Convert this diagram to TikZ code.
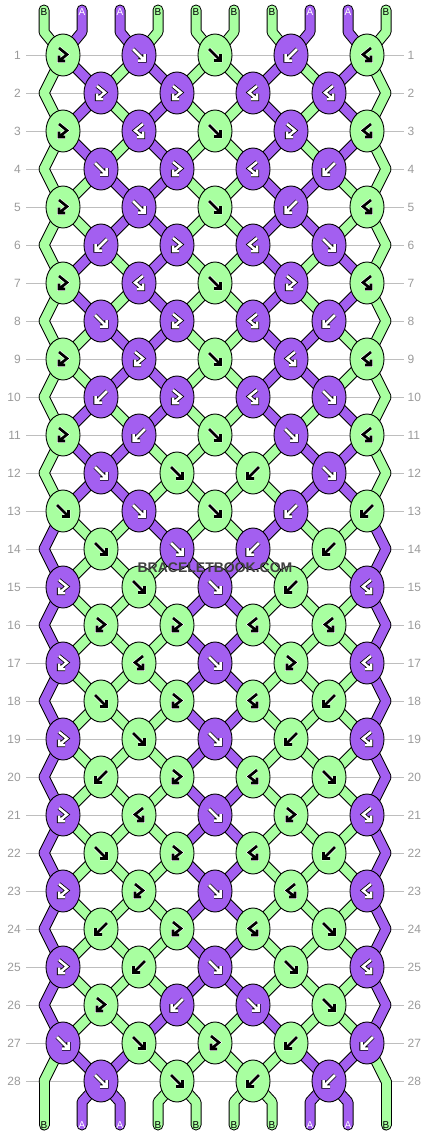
\documentclass[tikz,border=0pt]{standalone}
\usepackage{fontspec}
\setmainfont{Liberation Sans}
\usetikzlibrary{shapes.geometric}

\definecolor{threadA}{HTML}{A35FF0}
\definecolor{threadB}{HTML}{A8FFA0}
\definecolor{rowrule}{HTML}{BEBEBE}
\definecolor{rowlabel}{HTML}{9A9A9A}
\definecolor{brand}{HTML}{404040}

\pgfdeclarelayer{rules}
\pgfdeclarelayer{threads}
\pgfsetlayers{rules,threads,main}

\begin{document}
\begin{tikzpicture}[
		x={(1pt,0pt)},
		y={(0pt,-1pt)},
		knot/.style={ellipse,draw=black,line width=0.9pt,fill=thread#1,minimum width=34pt,minimum height=42pt,inner sep=0pt},
		threadback/.style={draw=black,line width=11pt,line cap=round,line join=round},
		threadfront/.style={draw=thread#1,line width=9pt,line cap=round,line join=round},
		glyphA/.style={draw=black,line width=0.8pt,double=white,double distance=2.5pt,line join=miter},
		glyphB/.style={draw=white,line width=0.6pt,double=black,double distance=2.7pt,line join=miter},
		symfw/.style={insert path={+(-6,-6) -- +(5.5,5.5) +(5.5,-1) -- +(5.5,5.5) -- +(-1,5.5)}},
		symbw/.style={insert path={+(6,-6) -- +(-5.5,5.5) +(-5.5,-1) -- +(-5.5,5.5) -- +(1,5.5)}},
		symfb/.style={insert path={+(-4,-7) -- +(4,-0.5) -- +(-4,6) +(-4,0.5) -- +(-4,6) -- +(2,6)}},
		symbf/.style={insert path={+(4,-7) -- +(-4,-0.5) -- +(4,6) +(4,0.5) -- +(4,6) -- +(-2,6)}},
		tag/.style={font=\fontsize{10}{12}\selectfont,inner sep=0pt},
		tagA/.style={tag,text=white},
		tagB/.style={tag,text=black},
		rownum/.style={font=\fontsize{12}{14}\selectfont,text=rowlabel,inner sep=0pt},
	]
	\useasboundingbox (0,0) rectangle (430,1136);

	% knots, one list per row
	\foreach \r/\row in {
			1/{B/fb,A/fw,B/fw,A/bw,B/bf},
			2/{A/fb,A/fb,A/bf,A/bf},
			3/{B/fb,A/bf,B/fw,A/fb,B/bf},
			4/{A/fw,A/fb,A/bf,A/bw},
			5/{B/fb,A/fw,B/fw,A/bw,B/bf},
			6/{A/bw,A/fb,A/bf,A/fw},
			7/{B/fb,A/bf,B/fw,A/fb,B/bf},
			8/{A/fw,A/fb,A/bf,A/bw},
			9/{B/fb,A/fb,B/fw,A/bf,B/bf},
			10/{A/bw,A/fb,A/bf,A/fw},
			11/{B/fb,A/bw,B/fw,A/fw,B/bf},
			12/{A/fw,B/fw,B/bw,A/fw},
			13/{B/fw,A/fw,B/fw,A/bw,B/bw},
			14/{B/fw,A/fw,A/bw,B/bw},
			15/{A/fb,B/fw,A/fw,B/bw,A/bf},
			16/{B/fb,B/fb,B/bf,B/bf},
			17/{A/fb,B/bf,A/fw,B/fb,A/bf},
			18/{B/fw,B/fb,B/bf,B/bw},
			19/{A/fb,B/fw,A/fw,B/bw,A/bf},
			20/{B/bw,B/fb,B/bf,B/fw},
			21/{A/fb,B/bf,A/fw,B/fb,A/bf},
			22/{B/fw,B/fb,B/bf,B/bw},
			23/{A/fb,B/fb,A/fw,B/bf,A/bf},
			24/{B/bw,B/fb,B/bf,B/fw},
			25/{A/fb,B/bw,A/fw,B/fw,A/bf},
			26/{B/fb,A/bw,A/fw,B/fw},
			27/{A/fw,B/fw,B/fb,B/bw,A/bw},
			28/{A/fw,B/fw,B/bw,A/bw}}{
		\pgfmathsetmacro{\kx}{mod(\r,2)==1 ? 63 : 101}
		\pgfmathsetmacro{\ky}{55+38*(\r-1)}
		\foreach \k/\t [count=\n] in \row {
			\node[knot=\k] (k-\r-\n) at ({\kx+76*(\n-1)},\ky) {};
			\draw[glyph\k] (k-\r-\n.center) [sym\t];
		}
		\ifodd\r\else
			\coordinate (k-\r-0) at (44,\ky);
			\coordinate (k-\r-5) at (386,\ky);
		\fi
		\node[rownum,anchor=east] (ln-\r) at (21,\ky) {\r};
		\node[rownum,anchor=west] (rn-\r) at (407.5,\ky) {\r};
	}

	% string ends and their letters
	\foreach \col [count=\i] in {B,A,A,B,B,B,B,A,A,B}{
		\pgfmathsetmacro{\sx}{44+38*(\i-1)}
		\coordinate (top-\i) at (\sx,10);
		\coordinate (topbend-\i) at (\sx,32);
		\coordinate (botbend-\i) at (\sx,1102);
		\coordinate (bot-\i) at (\sx,1125);
		\node[tag\col] (lt-\i) at (\sx,11.7) {\col};
		\node[tag\col] (lb-\i) at (\sx,1124.7) {\col};
	}

	\node[font=\bfseries\fontsize{14}{16}\selectfont,text=brand,inner sep=0pt] (brand) at (215,568) {BRACELETBOOK.COM};

	\begin{pgfonlayer}{rules}
		\foreach \r in {1,...,28}{
			\draw[rowrule,line width=0.8pt,shorten <=5pt,shorten >=3.5pt] (ln-\r.east) -- (rn-\r.west);
		}
	\end{pgfonlayer}

	\begin{pgfonlayer}{threads}
		\foreach \pass in {threadback,threadfront}{
			\foreach \col [count=\i] in {B,A,A,B,B,B,B,A,A,B}{
				\pgfmathtruncatemacro{\kc}{(\i+1)/2}
				\draw[\pass=\col] (top-\i) -- (topbend-\i) -- (k-1-\kc.center);
			}
			% colour of every string after each row
			\foreach \r/\st in {
					1/{B,A,B,A,B,B,A,B,A,B},
					2/{B,A,B,A,B,B,A,B,A,B},
					3/{B,A,B,A,B,B,A,B,A,B},
					4/{B,B,A,A,B,B,A,A,B,B},
					5/{B,B,A,A,B,B,A,A,B,B},
					6/{B,A,B,A,B,B,A,B,A,B},
					7/{B,A,B,A,B,B,A,B,A,B},
					8/{B,B,A,A,B,B,A,A,B,B},
					9/{B,B,A,A,B,B,A,A,B,B},
					10/{B,A,B,A,B,B,A,B,A,B},
					11/{B,A,A,B,B,B,B,A,A,B},
					12/{B,A,A,B,B,B,B,A,A,B},
					13/{A,B,B,A,B,B,A,B,B,A},
					14/{A,B,B,B,A,A,B,B,B,A},
					15/{A,B,B,B,A,A,B,B,B,A},
					16/{A,B,B,B,A,A,B,B,B,A},
					17/{A,B,B,B,A,A,B,B,B,A},
					18/{A,B,B,B,A,A,B,B,B,A},
					19/{A,B,B,B,A,A,B,B,B,A},
					20/{A,B,B,B,A,A,B,B,B,A},
					21/{A,B,B,B,A,A,B,B,B,A},
					22/{A,B,B,B,A,A,B,B,B,A},
					23/{A,B,B,B,A,A,B,B,B,A},
					24/{A,B,B,B,A,A,B,B,B,A},
					25/{A,B,B,B,A,A,B,B,B,A},
					26/{A,B,B,A,B,B,A,B,B,A},
					27/{B,A,A,B,B,B,B,A,A,B}}{
				\pgfmathtruncatemacro{\nr}{\r+1}
				\foreach \col [count=\i] in \st {
					\pgfmathtruncatemacro{\ca}{mod(\r,2)==1 ? (\i+1)/2 : \i/2}
					\pgfmathtruncatemacro{\cb}{mod(\r,2)==1 ? \i/2 : (\i+1)/2}
					\draw[\pass=\col] (k-\r-\ca.center) -- (k-\nr-\cb.center);
				}
			}
			\foreach \col [count=\i] in {B,A,A,B,B,B,B,A,A,B}{
				\pgfmathtruncatemacro{\kc}{\i/2}
				\draw[\pass=\col] (k-28-\kc.center) -- (botbend-\i) -- (bot-\i);
			}
		}
	\end{pgfonlayer}
\end{tikzpicture}
\end{document}
